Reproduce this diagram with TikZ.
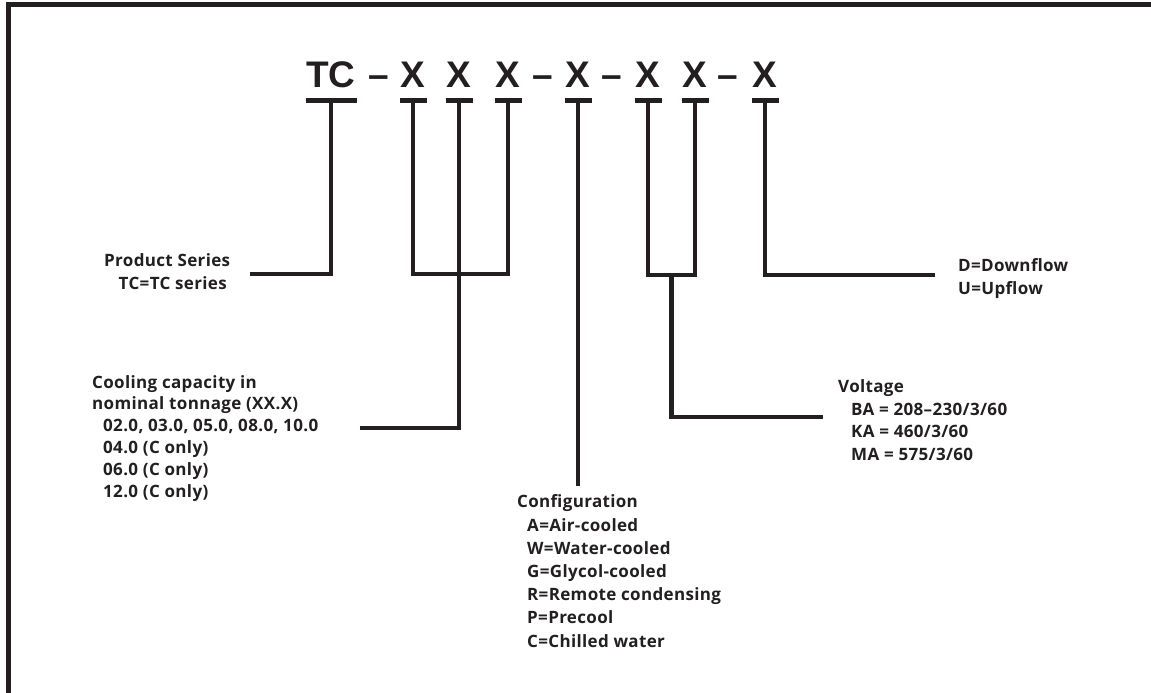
\documentclass[tikz,border=0pt]{standalone}
\usepackage{fontspec}
\newfontfamily\hdr{Liberation Sans}
\newfontfamily\lab{Open Sans}[LetterSpace=2]
\definecolor{ink}{HTML}{231F20}
\tikzset{
  hd/.style={anchor=base, inner sep=0pt, text=ink, font={\hdr\bfseries\fontsize{37}{40}\selectfont}},
  lbl/.style={anchor=base west, inner sep=0pt, text=ink, font={\lab\bfseries\fontsize{17}{22.5}\selectfont}},
  ln/.style={draw=ink, line width=4.5pt, line join=miter},
  ubar/.style={draw=ink, line width=5pt}
}
\begin{document}
\begin{tikzpicture}[x=1pt,y=-1pt]
\useasboundingbox (0,0) rectangle (1151,693);
% frame
\draw[ink, line width=5pt] (8.5,693) -- (8.5,5) -- (1151,5);
% header characters
\node[hd] (tc) at (331,88) {TC};
\node[hd] (d1) at (379,88) {–};
\node[hd] (x1) at (413,88) {X};
\node[hd] (x2) at (459,88) {X};
\node[hd] (x3) at (508,88) {X};
\node[hd] (d2) at (543,88) {–};
\node[hd] (x4) at (578,88) {X};
\node[hd] (d3) at (612,88) {–};
\node[hd] (x5) at (648,88) {X};
\node[hd] (x6) at (695,88) {X};
\node[hd] (d4) at (728,88) {–};
\node[hd] (x7) at (765,88) {X};
% underbar centres
\foreach \n in {tc,x1,x2,x3,x4,x5,x6,x7}{\coordinate (b\n) at ([yshift=-12.5pt]\n.base);}
\draw[ubar] ([xshift=-25.5pt]btc) -- ([xshift=25.5pt]btc);
\foreach \n in {x1,x2,x3,x4,x5,x6,x7}{\draw[ubar] ([xshift=-13.5pt]b\n) -- ([xshift=13.5pt]b\n);}
% labels (multi-line nodes: base = last line)
\node[lbl] (ps) at (104,266) {Product Series};
\node[lbl, anchor=base east] (ps2) at (227,289) {TC=TC series};
\node[lbl, align=left, font={\lab\bfseries\fontsize{17}{21.8}\selectfont}] (cool) at (92,497) {Cooling capacity in\\nominal tonnage (XX.X)\\
\hspace*{11pt}02.0, 03.0, 05.0, 08.0, 10.0\\\hspace*{11pt}04.0 (C only)\\\hspace*{11pt}06.0 (C only)\\\hspace*{11pt}12.0 (C only)};
\node[lbl, align=left, font={\lab\bfseries\fontsize{17}{23.2}\selectfont}] (conf) at (517,647) {Configuration\\
\hspace*{10pt}A=Air-cooled\\\hspace*{10pt}W=Water-cooled\\\hspace*{10pt}G=Glycol-cooled\\\hspace*{10pt}R=Remote condensing\\\hspace*{10pt}P=Precool\\\hspace*{10pt}C=Chilled water};
\node[lbl, align=left] (volt) at (838,460) {Voltage\\
\hspace*{13pt}BA = 208–230/3/60\\\hspace*{13pt}KA = 460/3/60\\\hspace*{13pt}MA = 575/3/60};
\node[lbl, align=left, font={\lab\bfseries\fontsize{17}{23}\selectfont}] (flow) at (958,294) {D=Downflow\\U=Upflow};
% connector free ends
\coordinate (eps) at (250,274);
\coordinate (ecool) at (360,428);
\coordinate (econf) at (578,486);
\coordinate (evolt) at (823,417);
\coordinate (eflow) at (935,275);
% connectors
\draw[ln] (btc) |- (eps);
\draw[ln] (bx1) |- (bx3 |- eps) -- (bx3);
\draw[ln] (bx2) |- (ecool);
\draw[ln] (bx4) -- (econf);
\draw[ln] (bx5) |- (bx6 |- eflow) -- (bx6);
\draw[ln] (671.5,275) |- (evolt);
\draw[ln] (bx7) |- (eflow);
\end{tikzpicture}
\end{document}
